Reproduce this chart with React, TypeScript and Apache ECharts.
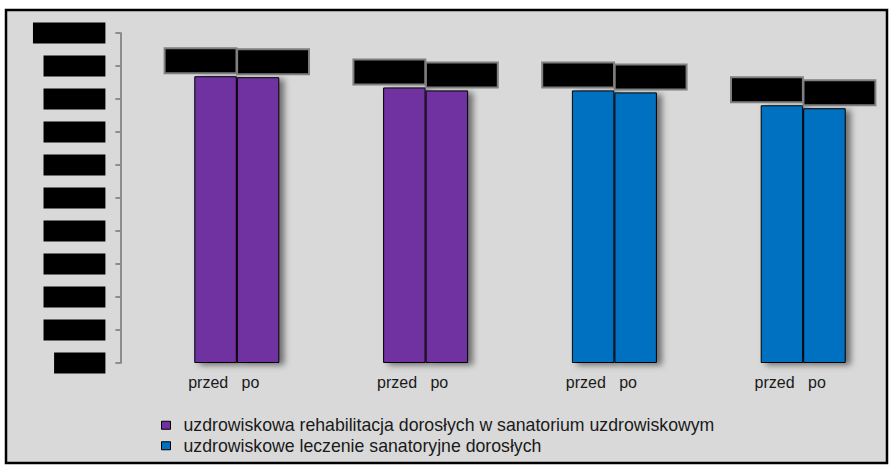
import React, { useEffect, useRef } from "react";
import * as echarts from "echarts";

const groups = ["g1", "g2", "g3", "g4"];
const phases = ["przed", "po"];
const seriesNames = [
  "uzdrowiskowa rehabilitacja dorosłych w sanatorium uzdrowiskowym",
  "uzdrowiskowe leczenie sanatoryjne dorosłych",
];
const rehabPrzed = [86.9, 83.5, null, null];
const rehabPo = [86.6, 82.6, null, null];
const leczPrzed = [null, null, 82.6, 78.1];
const leczPo = [null, null, 82.0, 77.2];

const FONT = "Liberation Sans, Arial, sans-serif";
const PURPLE = "#7030A0";
const BLUE = "#0070C0";

const fmtPct = (v: number) => v.toFixed(1).replace(".", ",") + "%";

function makeSeries(name: string, data: (number | null)[], stack: string, color: string, dx: number) {
  return {
    type: "bar",
    name,
    stack,
    data: data.map((v) => (v === null ? "-" : v)),
    barWidth: 42.5,
    barGap: "0%",
    itemStyle: {
      color,
      borderColor: "#000",
      borderWidth: 1,
      shadowColor: "rgba(0,0,0,0.5)",
      shadowBlur: 6,
      shadowOffsetX: 5,
      shadowOffsetY: 2,
    },
    label: {
      show: true,
      position: "top",
      distance: 4,
      offset: [dx, 0],
      formatter: (p: any) => fmtPct(p.value),
      color: "#000",
      backgroundColor: "#000",
      borderColor: "#7f7f7f",
      borderWidth: 2,
      fontFamily: FONT,
      fontSize: 19,
      lineHeight: 21,
      padding: [1, 8, 1, 8],
    },
  };
}

export default function App() {
  const ref = useRef<HTMLDivElement>(null);
  useEffect(() => {
    const chart = echarts.init(ref.current!, null, { renderer: "svg" });
    chart.setOption({
      animation: false,
      backgroundColor: "#ffffff",
      textStyle: { fontFamily: FONT },
      graphic: {
        elements: [
          {
            type: "rect",
            z: -100,
            silent: true,
            shape: { x: 6, y: 10, width: 881, height: 453 },
            style: { fill: "#d9d9d9", stroke: "#000", lineWidth: 2.5 },
          },
        ],
      },
      grid: { left: 142.4, top: 33, width: 755.2, height: 330 },
      xAxis: {
        type: "category",
        data: groups,
        axisLine: { show: false },
        axisTick: { show: false },
        axisLabel: {
          formatter: () => phases.join("   "),
          color: "#1a1a1a",
          fontFamily: FONT,
          fontSize: 16,
          margin: 11,
          padding: [0, 26, 0, 0],
        },
      },
      yAxis: {
        type: "value",
        min: 0,
        max: 100,
        interval: 10,
        offset: 22,
        splitLine: { show: false },
        axisLine: { show: true, lineStyle: { color: "#8c8c8c", width: 2 } },
        axisTick: { show: true, length: 5, lineStyle: { color: "#8c8c8c", width: 2 } },
        axisLabel: {
          margin: 15,
          formatter: (v: number) => fmtPct(v),
          color: "#000",
          backgroundColor: "#000",
          fontFamily: FONT,
          fontSize: 19,
          lineHeight: 21,
          padding: [0, 4, 0, 4],
        },
      },
      legend: {
        orient: "vertical",
        left: 156,
        top: 410,
        data: seriesNames,
        icon: "rect",
        itemWidth: 9,
        itemHeight: 8,
        itemGap: 0,
        textStyle: { fontFamily: FONT, fontSize: 17.7, lineHeight: 20.5, color: "#1a1a1a", padding: [0, 0, 0, 8] },
        itemStyle: { borderColor: "#000", borderWidth: 1 },
      },
      series: [
        makeSeries(seriesNames[0], rehabPrzed, "przed", PURPLE, -15),
        makeSeries(seriesNames[0], rehabPo, "po", PURPLE, 15),
        makeSeries(seriesNames[1], leczPrzed, "przed", BLUE, -15),
        makeSeries(seriesNames[1], leczPo, "po", BLUE, 15),
      ],
    });
    return () => chart.dispose();
  }, []);
  return (
    <div
      style={{
        position: "absolute",
        left: 0,
        top: 0,
        width: 890,
        height: 466,
        overflow: "hidden",
        background: "#fff",
      }}
    >
      <div ref={ref} style={{ width: 900, height: 466 }} />
    </div>
  );
}
